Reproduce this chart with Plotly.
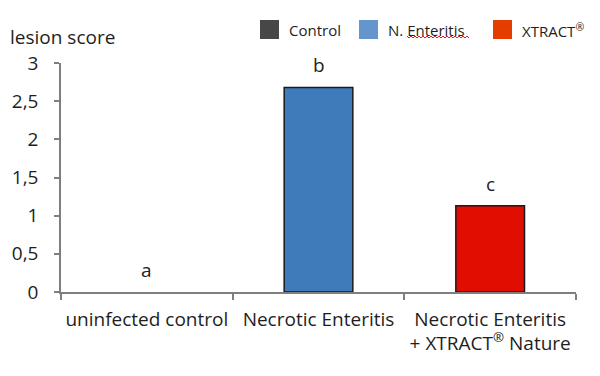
import plotly.graph_objects as go

categories = ["uninfected control", "Necrotic Enteritis", "Necrotic Enteritis<br>+ XTRACT<sup>®</sup> Nature"]
series_names = ["Control", "N. Enteritis", "XTRACT<sup>®</sup>"]
values = [0.0, 2.68, 1.13]
letters = ["a", "b", "c"]
bar_colors = ["#4a4a4a", "#3f7bbb", "#e00d00"]
legend_colors = ["#474747", "#6495cd", "#e53c00"]
y_tickvals = [0, 0.5, 1, 1.5, 2, 2.5, 3]
y_ticktext = ["0", "0,5", "1", "1,5", "2", "2,5", "3"]

W, H = 600, 376
L, R, T, B = 61, 24, 63, 84
PW, PH = W - L - R, H - T - B

def px(x):
    return (x - L) / PW

def py(y):
    return (H - B - y) / PH

FONT = "Open Sans, sans-serif"
TXT = "#1e1e1e"
FS = 19

fig = go.Figure()
for i, (cat, val, col) in enumerate(zip(categories, values, bar_colors)):
    fig.add_trace(go.Bar(
        x=[cat], y=[val], name=series_names[i], width=0.4,
        marker=dict(color=col, line=dict(color="#1a1a1a", width=1.5 if val > 0 else 0)),
        showlegend=False,
    ))

annotations = []
for cat, val, lab in zip(categories, values, letters):
    annotations.append(dict(x=cat, y=val, xref="x", yref="y", text=lab, showarrow=False,
                            yanchor="bottom", yshift=7, font=dict(size=FS, color=TXT, family=FONT)))

annotations.append(dict(x=px(8), y=py(37), xref="paper", yref="paper", text="lesion score",
                        showarrow=False, xanchor="left", yanchor="middle",
                        font=dict(size=FS, color=TXT, family=FONT)))

shapes = []
legend_x = [260, 359, 493]
for name, col, lx in zip(series_names, legend_colors, legend_x):
    shapes.append(dict(type="rect", xref="paper", yref="paper",
                       x0=px(lx), x1=px(lx + 19), y0=py(39), y1=py(20),
                       fillcolor=col, line=dict(width=0)))
    annotations.append(dict(x=px(lx + 27), y=py(30), xref="paper", yref="paper", text=name,
                            showarrow=False, xanchor="left", yanchor="middle",
                            font=dict(size=15, color=TXT, family=FONT)))

# spell-check wavy underline under "Enteritis"
pts = []
x0w, x1w, yw = 407, 470, 37
n = int((x1w - x0w) / 2)
for k in range(n + 1):
    xx = x0w + 2 * k
    yy = yw + (1 if k % 2 else -1)
    pts.append(("M" if k == 0 else "L") + f"{px(xx):.5f},{py(yy):.5f}")
shapes.append(dict(type="path", xref="paper", yref="paper", path=" ".join(pts),
                   line=dict(color="#e02020", width=1)))

fig.update_layout(
    width=W, height=H,
    margin=dict(l=L, r=R, t=T, b=B, autoexpand=False),
    paper_bgcolor="white", plot_bgcolor="white",
    barmode="overlay",
    showlegend=False,
    annotations=annotations,
    shapes=shapes,
    font=dict(family=FONT, color=TXT),
)
fig.update_xaxes(
    automargin=False, tickangle=0, ticklabelstandoff=9,
    showline=True, linecolor="#7f7f7f", linewidth=1.5,
    ticks="outside", tickson="boundaries", ticklen=6, tickcolor="#7f7f7f", tickwidth=1.5,
    showgrid=False, tickfont=dict(size=FS, color=TXT, family=FONT),
)
fig.update_yaxes(
    automargin=False,
    range=[0, 3], tickvals=y_tickvals, ticktext=y_ticktext,
    showline=True, linecolor="#7f7f7f", linewidth=1.5,
    ticks="outside", ticklen=5, tickcolor="#7f7f7f", tickwidth=1.5,
    showgrid=False, zeroline=False, ticklabelstandoff=12,
    tickfont=dict(size=FS, color=TXT, family=FONT),
)

fig.write_html("out.html", config={"displayModeBar": False},
               post_script="document.body.style.margin='0';")
